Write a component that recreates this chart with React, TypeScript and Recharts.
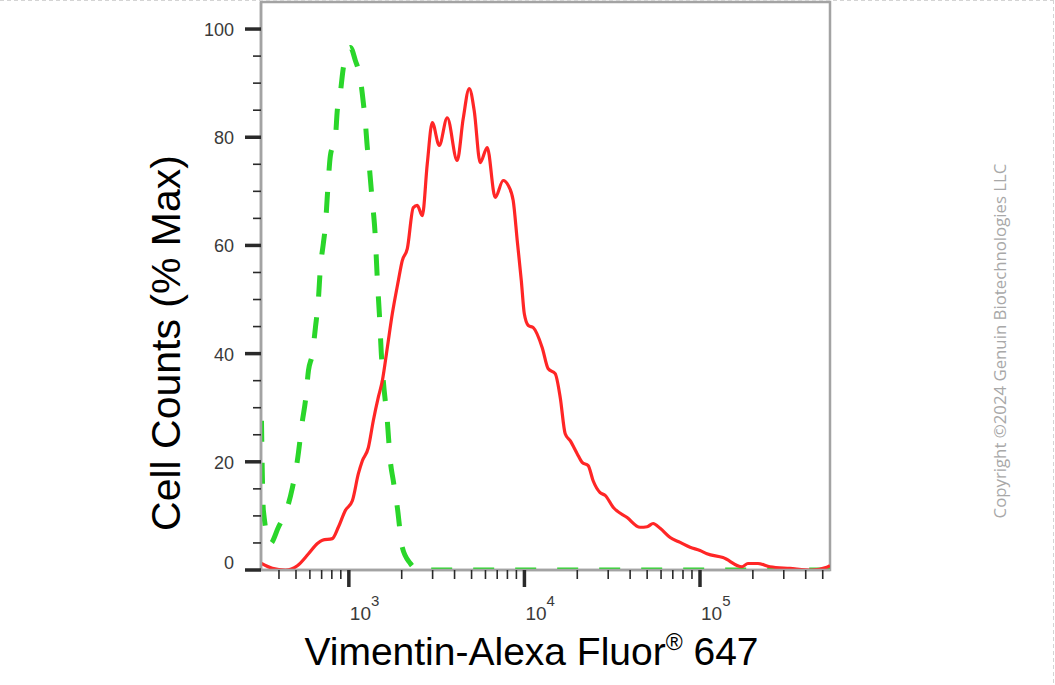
import { Label, Line, LineChart, ReferenceArea, XAxis, YAxis } from "recharts";

const FONT = "'Liberation Sans', Arial, sans-serif";
const RED = "#ff2626";
const GREEN = "#2ad62a";
const AXIS_GRAY = "#a3a3a3";

// Fluorescence intensity (log axis) vs % of max.
const STAINED_X = [
  318, 367, 435, 509, 589, 662, 707, 805, 871, 955, 1047, 1133, 1194, 1291, 1378, 1471, 1552,
  1656, 1769, 1914, 2015, 2153, 2328, 2453, 2620, 2797, 2987, 3272, 3634, 4141, 4479, 4849,
  5177, 5600, 6137, 6817, 7570, 8085, 8630, 9100, 9600, 9980, 10520, 11230, 12630, 13660,
  14970, 15990, 17070, 18220, 19970, 21320, 23070, 24620, 26980, 28830, 32000, 38450, 45600,
  50000, 54080, 59290, 67600, 77090, 87760, 100000, 109600, 135200, 173400, 187500, 213800,
  250300, 325000, 433500, 527200, 549500,
];
const STAINED_Y = [
  1.2, 0.3, 0, 0.8, 3.0, 4.9, 5.5, 5.8, 7.9, 11.0, 12.8, 17.8, 20.2, 22.6, 27.6, 31.9, 35.0,
  41.1, 47.4, 53.5, 57.2, 59.4, 67.0, 67.4, 65.5, 75.1, 82.7, 78.5, 83.6, 75.7, 83.4, 89.0,
  84.9, 75.3, 78.1, 68.9, 72.0, 71.1, 68.3, 60.9, 53.5, 47.4, 45.2, 44.8, 41.1, 37.2,
  36.3, 31.9, 25.2, 23.9, 21.5, 19.9, 19.3, 16.5, 14.3, 13.8, 11.6, 9.7, 7.9,
  8.0, 8.6, 7.7, 6.0, 5.1, 4.2, 3.6, 3.0, 2.3, 0.6, 1.2, 1.2,
  0.6, 0.3, 0, 0.5, 0.8,
];

// Isotype control.
const CONTROL_X = [
  318, 321, 326, 357, 397, 447, 477, 509, 544, 566, 589, 620, 645, 670, 688, 716, 735, 752,
  764, 785, 838, 859, 895, 931, 1020, 1089, 1161, 1209, 1242, 1274, 1309, 1343, 1378, 1415,
  1433, 1452, 1492, 1531, 1571, 1656, 1722, 1791, 1888, 2015, 2241, 2485, 550000,
];
const CONTROL_Y = [
  27.6, 19.0, 11.0, 4.9, 7.9, 11.6, 15.2, 20.2, 27.6, 31.3, 36.9, 40.0, 44.8, 49.8, 55.7, 60.4,
  63.6, 68.5, 72.0, 76.6, 79.9, 84.9, 88.3, 92.9, 96.6, 94.2, 90.9, 86.4, 82.7, 78.1, 74.4,
  70.2, 66.4, 61.5, 57.8, 53.9, 47.4, 40.0, 35.0, 27.6, 20.2, 16.5, 11.6, 4.2, 1.2, 0, 0,
];

const X_DOMAIN: [number, number] = [316, 550000];
const Y_DOMAIN: [number, number] = [0, 105];

const X_MAJOR = [1000, 10000, 100000];
const X_MINOR = [
  400, 500, 600, 700, 800, 900, 2000, 3000, 4000, 5000, 6000, 7000, 8000, 9000, 20000, 30000,
  40000, 50000, 60000, 70000, 80000, 90000, 200000, 300000, 400000, 500000,
];
const X_TICKS = [...X_MINOR, ...X_MAJOR].sort((a, b) => a - b);
const Y_TICKS = [0, 5, 10, 15, 20, 25, 30, 35, 40, 45, 50, 55, 60, 65, 70, 75, 80, 85, 90, 95, 100];
const Y_LABELED = [0, 20, 40, 60, 80, 100];

const stained = STAINED_X.map((x, i) => ({ x, y: STAINED_Y[i] }));
const control = CONTROL_X.map((x, i) => ({ x, y: CONTROL_Y[i] }));

type TickProps = { x?: number; y?: number; payload?: { value: number } };

function XTick({ x = 0, y = 0, payload }: TickProps) {
  const v = payload?.value ?? 0;
  const major = X_MAJOR.includes(v);
  return (
    <g>
      <line x1={x} x2={x} y1={y} y2={y + (major ? 17 : 9)} stroke="#2a2a2a" strokeWidth={major ? 3.5 : 1.6} />
      {major && (
        <text x={x + 1} y={y + 50} fontSize={19} fill="#3a3a3a" fontFamily={FONT}>
          10
          <tspan fontSize={15} dy={-14}>
            {Math.round(Math.log10(v))}
          </tspan>
        </text>
      )}
    </g>
  );
}

function YTick({ x = 0, y = 0, payload }: TickProps) {
  const v = payload?.value ?? 0;
  const major = Y_LABELED.includes(v);
  return (
    <g>
      <line x1={x - (major ? 16 : 8)} x2={x} y1={y} y2={y} stroke="#2a2a2a" strokeWidth={major ? 3.5 : 1.6} />
      {major && (
        <text x={x - 27} y={y + (v === 0 ? -1 : 7)} fontSize={18} fill="#3a3a3a" textAnchor="end" fontFamily={FONT}>
          {v}
        </text>
      )}
    </g>
  );
}

type Box = { x: number; y: number; width: number; height: number };

function YTitle({ viewBox }: { viewBox?: Box }) {
  if (!viewBox) return null;
  const cx = viewBox.x + 180;
  const cy = viewBox.y + viewBox.height / 2 + 57;
  return (
    <text x={cx} y={cy} transform={`rotate(-90 ${cx} ${cy})`} textAnchor="middle" fontSize={41} fill="#000" fontFamily={FONT}>
      Cell Counts (% Max)
    </text>
  );
}

function XTitle({ viewBox }: { viewBox?: Box }) {
  if (!viewBox) return null;
  return (
    <text x={viewBox.x + viewBox.width / 2 - 14} y={viewBox.y + 95} textAnchor="middle" fontSize={39} fill="#000" fontFamily={FONT}>
      Vimentin-Alexa Fluor
      <tspan fontSize={23} dy={-15}>®</tspan>
      <tspan dy={15}> 647</tspan>
    </text>
  );
}

export default function App() {
  return (
    <div style={{ position: "absolute", left: 0, top: 0, width: 1055, height: 685, background: "#fff" }}>
      <LineChart width={1055} height={685} margin={{ top: 2, right: 225, bottom: 0, left: 0 }}>
        <XAxis
          dataKey="x"
          type="number"
          scale="log"
          domain={X_DOMAIN}
          allowDataOverflow
          ticks={X_TICKS}
          interval={0}
          tick={<XTick />}
          tickLine={false}
          tickSize={0}
          tickMargin={0}
          height={115}
          axisLine={{ stroke: AXIS_GRAY, strokeWidth: 2.5 }}
        >
          <Label content={<XTitle />} />
        </XAxis>
        <YAxis
          type="number"
          domain={Y_DOMAIN}
          allowDataOverflow
          ticks={Y_TICKS}
          interval={0}
          tick={<YTick />}
          tickLine={false}
          tickSize={0}
          tickMargin={0}
          width={261}
          axisLine={{ stroke: AXIS_GRAY, strokeWidth: 2.5 }}
        >
          <Label content={<YTitle />} />
        </YAxis>
        <ReferenceArea
          x1={X_DOMAIN[0]}
          x2={X_DOMAIN[1]}
          y1={Y_DOMAIN[0]}
          y2={Y_DOMAIN[1]}
          fill="none"
          stroke={AXIS_GRAY}
          strokeWidth={2.5}
          ifOverflow="visible"
        />
        <Line
          data={control}
          dataKey="y"
          type="monotone"
          stroke={GREEN}
          strokeWidth={5}
          strokeDasharray="21 21"
          dot={false}
          activeDot={false}
          isAnimationActive={false}
        />
        <Line
          data={stained}
          dataKey="y"
          type="monotone"
          stroke={RED}
          strokeWidth={3.2}
          dot={false}
          activeDot={false}
          isAnimationActive={false}
        />
      </LineChart>
      <svg width={1055} height={685} style={{ position: "absolute", left: 0, top: 0, pointerEvents: "none" }}>
        <line x1={0} x2={1054} y1={0.5} y2={0.5} stroke="#d4d4d4" strokeDasharray="4 3" />
        <line x1={1053.5} x2={1053.5} y1={0} y2={685} stroke="#d4d4d4" strokeDasharray="4 3" />
        <text
          x={1006}
          y={341}
          transform="rotate(-90 1006 341)"
          textAnchor="middle"
          fontSize={16.8}
          fill="#a8a8a8"
          fontFamily="'Open Sans', sans-serif"
        >
          Copyright ©2024 Genuin Biotechnologies LLC
        </text>
      </svg>
    </div>
  );
}
